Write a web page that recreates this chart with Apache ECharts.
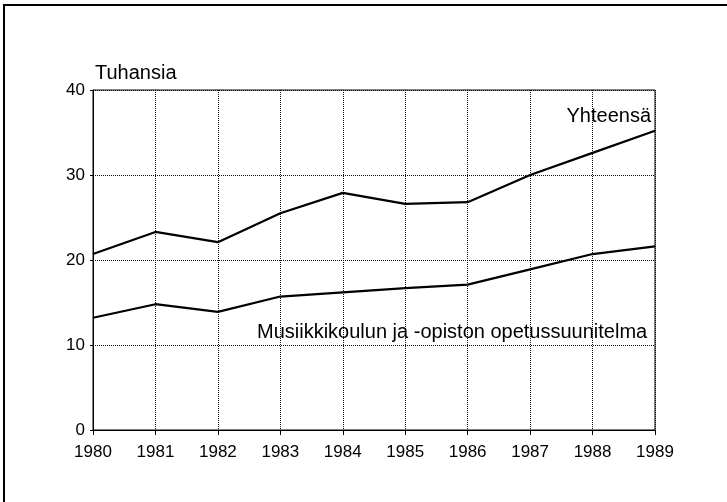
<!DOCTYPE html>
<html>
<head>
<meta charset="utf-8">
<script src="https://cdn.jsdelivr.net/npm/echarts@6/dist/echarts.min.js"></script>
<style>
    html, body { margin: 0; padding: 0; background: #fff; }
    #chart { width: 727px; height: 502px; }
</style>
</head>
<body>
<div id="chart"></div>
<script>
    // vuodet ja arvot (tuhansia)
    var years = ['1980', '1981', '1982', '1983', '1984', '1985', '1986', '1987', '1988', '1989'];
    var yhteensa = [20.7, 23.3, 22.1, 25.5, 27.9, 26.6, 26.8, 30.0, 32.6, 35.2];
    var musiikki = [13.2, 14.8, 13.9, 15.7, 16.2, 16.7, 17.1, 18.9, 20.7, 21.6];
    var yTicks = [0, 10, 20, 30, 40];

    var font = 'Liberation Sans, Arial, Helvetica, sans-serif';
    var chart = echarts.init(document.getElementById('chart'));

    chart.setOption({
        backgroundColor: '#fff',
        animation: false,
        textStyle: { fontFamily: font, color: '#000' },
        grid: {
            left: 93, right: 72, top: 90, bottom: 72,
            show: true, borderColor: '#000', borderWidth: 1
        },
        xAxis: {
            type: 'category',
            data: years,
            boundaryGap: false,
            axisLine: { lineStyle: { color: '#000', width: 1 } },
            axisTick: { show: true, length: 5, lineStyle: { color: '#000' } },
            axisLabel: { color: '#000', fontSize: 17, fontFamily: font, margin: 14 },
            splitLine: { show: true, lineStyle: { type: 'dotted', color: '#111', width: 1 } }
        },
        yAxis: {
            type: 'value',
            min: yTicks[0],
            max: yTicks[yTicks.length - 1],
            interval: 10,
            axisLine: { show: true, lineStyle: { color: '#000', width: 1 } },
            axisTick: { show: true, length: 3, lineStyle: { color: '#000' } },
            axisLabel: { color: '#000', fontSize: 17, fontFamily: font, margin: 8 },
            splitLine: { show: true, lineStyle: { type: 'dotted', color: '#111', width: 1 } }
        },
        series: [
            {
                name: 'Yhteensä',
                type: 'line',
                data: yhteensa,
                symbol: 'none',
                lineStyle: { color: '#000', width: 2.2 }
            },
            {
                name: 'Musiikkikoulun ja -opiston opetussuunitelma',
                type: 'line',
                data: musiikki,
                symbol: 'none',
                lineStyle: { color: '#000', width: 2.2 }
            }
        ],
        graphic: [
            // kehys
            {
                type: 'polyline',
                shape: { points: [[4, 502], [4, 5], [727, 5]] },
                style: { stroke: '#000', lineWidth: 2, fill: null }
            },
            {
                type: 'text', left: 95, top: 63,
                style: { text: 'Tuhansia', font: '20px ' + font, fill: '#000' }
            },
            {
                type: 'text', right: 76, top: 106,
                style: { text: 'Yhteensä', font: '20px ' + font, fill: '#000' }
            },
            {
                type: 'text', left: 257, top: 322,
                style: { text: 'Musiikkikoulun ja -opiston opetussuunitelma', font: '20px ' + font, fill: '#000' }
            }
        ]
    });
</script>
</body>
</html>
